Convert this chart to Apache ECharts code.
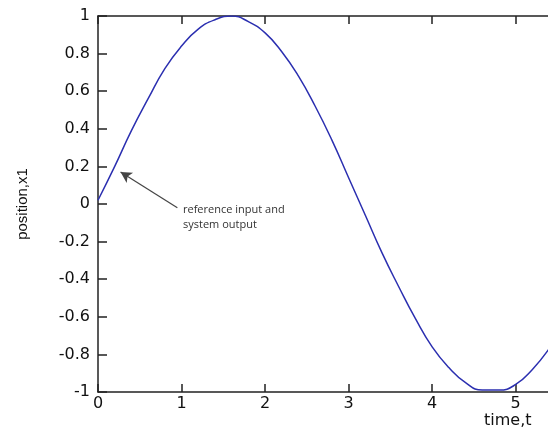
<!DOCTYPE html>
<html>
<head>
<meta charset="utf-8">
<script src="https://cdn.jsdelivr.net/npm/echarts@6/dist/echarts.min.js"></script>
<style>
html,body{margin:0;padding:0;background:#fff;overflow:hidden;}
#c{width:548px;height:431px;}
</style>
</head>
<body>
<div id="c"></div>
<script>
// time samples (s) and read-off position values
const timeT = [0,0.2,0.4,0.6,0.8,1.0,1.2,1.4,1.6,1.8,2.0,2.2,2.4,2.6,2.8,3.0,3.2,3.4,3.6,3.8,4.0,4.2,4.4,4.6,4.8,5.0,5.2,5.4,5.6,5.8,6.0,6.2];
const positionX1 = [0.02,0.2,0.39,0.56,0.72,0.84,0.93,0.98,1.0,0.97,0.91,0.81,0.68,0.52,0.34,0.14,-0.06,-0.26,-0.44,-0.61,-0.76,-0.87,-0.95,-0.99,-0.99,-0.96,-0.88,-0.77,-0.63,-0.47,-0.28,-0.08];
const yTicks = [-1,-0.8,-0.6,-0.4,-0.2,0,0.2,0.4,0.6,0.8,1];
const xTicks = [0,1,2,3,4,5,6];
const xLabel = 'time,t';
const yLabel = 'position,x1';
const annotationText = ['reference input and', 'system output'];
const arrowFrom = [0.95, -0.02];
const arrowTo = [0.27, 0.17];

const chart = echarts.init(document.getElementById('c'), null, {renderer:'canvas'});
const tickFont = {color:'#111', fontFamily:'DejaVu Sans', fontSize:16};
chart.setOption({
  animation:false,
  backgroundColor:'#fff',
  grid:{left:98, top:16, height:376, width:543, containLabel:false, outerBoundsMode:'none'},
  xAxis:[{
    type:'value', min:0, max:6.5, interval:1, position:'bottom',
    axisLine:{show:true, onZero:false, lineStyle:{color:'#222', width:1.5}},
    axisTick:{show:true, inside:true, length:8, lineStyle:{color:'#222', width:1.5}},
    axisLabel:Object.assign({margin:4, formatter:v=>xTicks.includes(v)?String(v):''}, tickFont),
    splitLine:{show:false}
  },{
    type:'value', min:0, max:6.5, interval:1, position:'top',
    axisLine:{show:true, onZero:false, lineStyle:{color:'#222', width:1.5}},
    axisTick:{show:true, inside:true, length:8, lineStyle:{color:'#222', width:1.5}},
    axisLabel:{show:false}, splitLine:{show:false}
  }],
  yAxis:{
    type:'value', min:-1, max:1, interval:0.2,
    name:yLabel, nameLocation:'middle', nameGap:68, nameRotate:90,
    nameTextStyle:{fontFamily:'Liberation Sans', fontSize:15, color:'#111'},
    axisLine:{show:true, onZero:false, lineStyle:{color:'#222', width:1.5}},
    axisTick:{show:true, inside:true, length:9, lineStyle:{color:'#222', width:1.5}},
    axisLabel:Object.assign({margin:8, formatter:v=>{const r=Math.round(v*10)/10; return yTicks.includes(r)?String(r):'';}}, tickFont),
    splitLine:{show:false}
  },
  series:[{
    type:'line', xAxisIndex:0, showSymbol:false, smooth:true,
    data:timeT.map((t,i)=>[t,positionX1[i]]),
    lineStyle:{color:'#2b2fb0', width:1.5},
    markLine:{
      silent:true, symbol:['none','arrow'], symbolSize:[9,11],
      label:{show:false},
      lineStyle:{color:'#444', width:1.2, type:'solid'},
      data:[[{coord:arrowFrom},{coord:arrowTo}]]
    }
  }],
  graphic:[{
    type:'text', left:183, top:202,
    style:{text:annotationText.join('\n'), fontFamily:'Open Sans', fontSize:11, lineHeight:15, fill:'#333'}
  },{
    type:'text', left:484, top:413,
    style:{text:xLabel, fontFamily:'DejaVu Sans', fontSize:16, fill:'#111'}
  }]
});
</script>
</body>
</html>
